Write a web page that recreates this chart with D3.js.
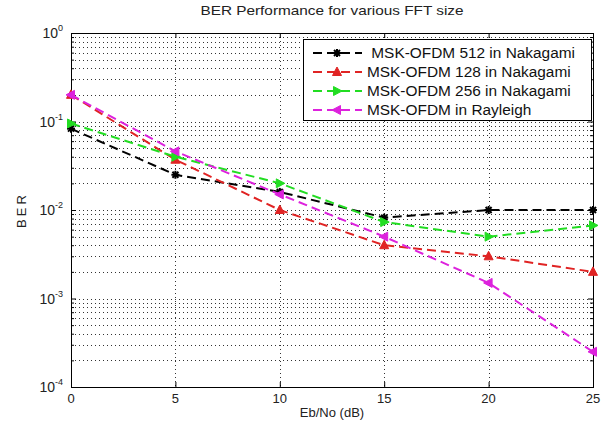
<!DOCTYPE html>
<html>
<head>
<meta charset="utf-8">
<script src="https://cdnjs.cloudflare.com/ajax/libs/d3/7.8.5/d3.min.js"></script>
<style>
  body { margin: 0; background: #fff; }
  svg { display: block; font-family: "Liberation Sans", Arial, sans-serif; }
</style>
</head>
<body>
<div id="chart"></div>
<script>
// Data
const snr = [0, 5, 10, 15, 20, 25];
const ber512 = [0.083, 0.025, 0.016, 0.0082, 0.01, 0.01];
const ber128 = [0.2, 0.037, 0.01, 0.004, 0.003, 0.002];
const ber256 = [0.095, 0.04, 0.02, 0.0073, 0.005, 0.0067];
const berRayleigh = [0.2, 0.046, 0.015, 0.005, 0.0015, 0.00025];
const seriesNames = [" MSK-OFDM 512 in Nakagami", "MSK-OFDM 128 in Nakagami", "MSK-OFDM 256 in Nakagami", "MSK-OFDM in Rayleigh"];
const xTicks = [0, 5, 10, 15, 20, 25];
const yExponents = [0, -1, -2, -3, -4];

const series = [
  { name: seriesNames[0], values: ber512, color: "#000000", marker: "star" },
  { name: seriesNames[1], values: ber128, color: "#e02424", marker: "up" },
  { name: seriesNames[2], values: ber256, color: "#22dd22", marker: "right" },
  { name: seriesNames[3], values: berRayleigh, color: "#dd22dd", marker: "left" }
];

// Chart dimensions
const width = 608;
const height = 423;
const margin = { top: 33, right: 15, bottom: 36, left: 71 };
const innerWidth = width - margin.left - margin.right;
const innerHeight = height - margin.top - margin.bottom;

const svg = d3.select("#chart").append("svg")
  .attr("width", width)
  .attr("height", height);

const bounds = svg.append("g")
  .attr("transform", `translate(${margin.left},${margin.top})`);

// Scales
const x = d3.scaleLinear().domain([0, 25]).range([0, innerWidth]);
const y = d3.scaleLog().domain([1e-4, 1]).range([innerHeight, 0]);

const minorVals = [];
for (let e = -4; e < 0; e++) {
  for (let m = 2; m <= 9; m++) minorVals.push(m * Math.pow(10, e));
}
const majorVals = yExponents.map(e => Math.pow(10, e));

// Grid
const grid = bounds.append("g").attr("class", "grid")
  .style("stroke", "#333").style("stroke-width", 1).style("stroke-dasharray", "1,3");

grid.selectAll(".hgrid")
  .data(minorVals.concat(majorVals.slice(1, 4)))
  .enter().append("line")
  .attr("x1", 0).attr("x2", innerWidth)
  .attr("y1", d => Math.round(y(d)) + 0.5).attr("y2", d => Math.round(y(d)) + 0.5);

grid.selectAll(".vgrid")
  .data(xTicks.slice(1, 5))
  .enter().append("line")
  .attr("y1", 0).attr("y2", innerHeight)
  .attr("x1", d => Math.round(x(d)) + 0.5).attr("x2", d => Math.round(x(d)) + 0.5);

// Ticks (inward, on all sides)
const tickStyle = g => {
  g.select(".domain").remove();
  g.selectAll("text").remove();
  g.selectAll("line").style("stroke", "#000");
};

bounds.append("g").attr("transform", `translate(0,${innerHeight})`)
  .call(d3.axisBottom(x).tickValues(xTicks).tickSize(-5)).call(tickStyle);
bounds.append("g")
  .call(d3.axisTop(x).tickValues(xTicks).tickSize(-5)).call(tickStyle);
bounds.append("g")
  .call(d3.axisLeft(y).tickValues(majorVals).tickSize(-5)).call(tickStyle);
bounds.append("g")
  .call(d3.axisLeft(y).tickValues(minorVals).tickSize(-3)).call(tickStyle);
bounds.append("g").attr("transform", `translate(${innerWidth},0)`)
  .call(d3.axisRight(y).tickValues(majorVals).tickSize(-5)).call(tickStyle);
bounds.append("g").attr("transform", `translate(${innerWidth},0)`)
  .call(d3.axisRight(y).tickValues(minorVals).tickSize(-3)).call(tickStyle);

// Frame
bounds.append("rect")
  .attr("x", 0.5).attr("y", 0.5)
  .attr("width", innerWidth).attr("height", innerHeight)
  .style("fill", "none").style("stroke", "#000").style("stroke-width", 1);

// Tick labels (placed in svg coordinates)
svg.selectAll(".xlabel")
  .data(xTicks)
  .enter().append("text")
  .attr("class", "xlabel")
  .attr("x", d => margin.left + x(d))
  .attr("y", margin.top + innerHeight + 16)
  .attr("text-anchor", "middle")
  .style("font-size", "13px").style("fill", "#222")
  .text(d => d);

svg.selectAll(".ylabel")
  .data(yExponents)
  .enter().append("text")
  .attr("class", "ylabel")
  .attr("x", 30)
  .attr("y", d => margin.top + y(Math.pow(10, d)) + 5)
  .style("font-size", "14px").style("fill", "#222")
  .call(t => {
    t.append("tspan").text("10");
    t.append("tspan").attr("dy", -7).style("font-size", "9px").text(d => d);
  })
  .attr("x", function () { return margin.left - 8 - this.getComputedTextLength(); });

// Titles
const title = svg.append("text")
  .attr("x", 332).attr("y", 15)
  .attr("text-anchor", "middle")
  .style("font-size", "13px").style("fill", "#222")
  .text("BER Performance for various FFT size");
title.attr("textLength", title.node().getComputedTextLength() * 1.18)
  .attr("lengthAdjust", "spacingAndGlyphs");

svg.append("text")
  .attr("x", margin.left + innerWidth / 2).attr("y", height - 6)
  .attr("text-anchor", "middle")
  .style("font-size", "13px").style("fill", "#222")
  .text("Eb/No (dB)");

svg.append("text")
  .attr("x", 26).attr("y", margin.top + innerHeight / 2)
  .attr("transform", `rotate(-90,26,${margin.top + innerHeight / 2})`)
  .attr("text-anchor", "middle")
  .style("font-size", "13px").style("fill", "#222")
  .style("letter-spacing", "3px")
  .text("BER");

// Markers
const marker = (sel, type, color) => {
  if (type === "star") {
    [[-4, 0, 4, 0], [0, -4, 0, 4], [-3, -3, 3, 3], [-3, 3, 3, -3]].forEach(s => {
      sel.append("line")
        .attr("x1", s[0]).attr("y1", s[1]).attr("x2", s[2]).attr("y2", s[3])
        .style("stroke", color).style("stroke-width", 2);
    });
  } else {
    const tri = {
      up: "M0,-5L4.5,3.5L-4.5,3.5Z",
      right: "M5,0L-3.5,4.5L-3.5,-4.5Z",
      left: "M-5,0L3.5,4.5L3.5,-4.5Z"
    }[type];
    sel.append("path").attr("d", tri)
      .style("fill", color).style("stroke", color).style("stroke-width", 1);
  }
};

// Lines
const line = d3.line()
  .x((d, i) => x(snr[i]))
  .y(d => y(d));

series.forEach(s => {
  bounds.append("path")
    .attr("d", line(s.values))
    .style("fill", "none")
    .style("stroke", s.color)
    .style("stroke-width", 2)
    .style("stroke-dasharray", "9,5");

  s.values.forEach((v, i) => {
    bounds.append("g")
      .attr("transform", `translate(${x(snr[i])},${y(v)})`)
      .call(g => marker(g, s.marker, s.color));
  });
});

// Legend
const legend = svg.append("g").attr("transform", "translate(303,39)");
legend.append("rect")
  .attr("x", 0.5).attr("y", 0.5)
  .attr("width", 288).attr("height", 81)
  .style("fill", "#fff").style("stroke", "#000").style("stroke-width", 1);

series.forEach((s, i) => {
  const row = legend.append("g").attr("transform", `translate(0,${14 + i * 19})`);
  row.append("line")
    .attr("x1", 10).attr("x2", 59).attr("y1", 0).attr("y2", 0)
    .style("stroke", s.color).style("stroke-width", 2)
    .style("stroke-dasharray", "9,5");
  row.append("g").attr("transform", "translate(34,0)")
    .call(g => marker(g, s.marker, s.color));
  const t = row.append("text")
    .attr("x", 64).attr("y", 5)
    .style("font-size", "14px").style("fill", "#111")
    .style("white-space", "pre")
    .text(s.name);
  t.attr("textLength", t.node().getComputedTextLength() * 1.1)
    .attr("lengthAdjust", "spacingAndGlyphs");
});
</script>
</body>
</html>
